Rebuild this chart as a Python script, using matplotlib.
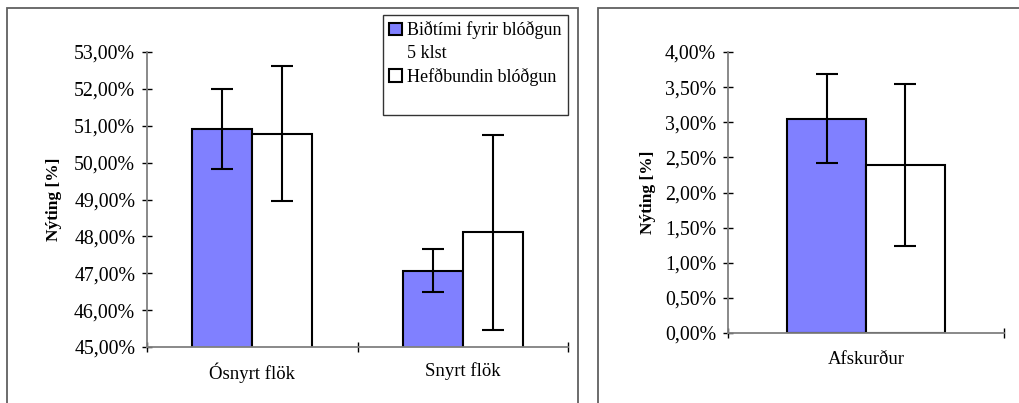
import numpy as np
import matplotlib
matplotlib.use("Agg")
import matplotlib.pyplot as plt
from matplotlib.patches import Rectangle
from matplotlib.ticker import FuncFormatter

# Data (values in %)
fillet_categories = ["Ósnyrt flök", "Snyrt flök"]
waiting_yield = [50.92, 47.07]
waiting_err = [1.08, 0.59]
standard_yield = [50.78, 48.11]
standard_err = [1.83, 2.64]

trim_categories = ["Afskurður"]
trim_waiting = [3.05]
trim_waiting_err = [0.63]
trim_standard = [2.39]
trim_standard_err = [1.15]

series_labels = ["Biðtími fyrir blóðgun", "Hefðbundin blóðgun"]
series_label_cont = "5 klst"

plt.rcParams["font.family"] = ["Liberation Serif", "DejaVu Serif"]
plt.rcParams["font.size"] = 13

BLUE = "#8080ff"
AXIS_GREY = "#808080"
BAR_W = 0.285


def pct_fmt(v, pos):
    return f"{v:.2f}%".replace(".", ",")


def style_axes(ax, n_cats, labels, label_pad=11):
    for side in ["top", "right"]:
        ax.spines[side].set_visible(False)
    for side in ["left", "bottom"]:
        ax.spines[side].set_color(AXIS_GREY)
        ax.spines[side].set_linewidth(1.3)
    ax.set_xlim(-0.5, n_cats - 0.5)
    # category boundaries as major ticks, names on minor ticks
    ax.set_xticks(np.arange(n_cats + 1) - 0.5)
    ax.set_xticklabels([])
    ax.set_xticks(np.arange(n_cats), minor=True)
    ax.set_xticklabels(labels, minor=True, fontsize=13.5)
    ax.tick_params(axis="x", which="major", direction="inout", length=7,
                   color="black", width=1)
    ax.tick_params(axis="x", which="minor", length=0, pad=label_pad)
    ax.tick_params(axis="y", direction="inout", length=7, color="black",
                   width=1, pad=5, labelsize=14.3)
    ax.yaxis.set_major_formatter(FuncFormatter(pct_fmt))
    ax.set_ylabel("Nýting [%]", fontweight="bold", fontsize=12.5)


def draw_bars(ax, x, a, a_err, b, b_err):
    err_kw = dict(ecolor="black", elinewidth=1.5, capsize=8, capthick=1.5)
    h1 = ax.bar(x - BAR_W / 2, a, BAR_W, color=BLUE, edgecolor="black",
                linewidth=1.5, yerr=a_err, error_kw=err_kw, zorder=2)
    h2 = ax.bar(x + BAR_W / 2, b, BAR_W, color="white", edgecolor="black",
                linewidth=1.5, yerr=b_err, error_kw=err_kw, zorder=2)
    return h1, h2


fig = plt.figure(figsize=(10.19, 4.03), dpi=100)

# panel frames (chart area borders)
for x0, x1 in [(7, 578), (598, 1030)]:
    fig.patches.append(Rectangle((x0 / 1019, -0.05), (x1 - x0) / 1019,
                                 (403 - 8) / 403 + 0.05,
                                 transform=fig.transFigure, fill=False,
                                 edgecolor="#606060", linewidth=1.3))

# left chart: fillets
ax1 = fig.add_axes([147 / 1019, 56 / 403, 421 / 1019, 295 / 403])
x1 = np.arange(len(fillet_categories))
h_wait, h_std = draw_bars(ax1, x1, waiting_yield, waiting_err,
                          standard_yield, standard_err)
ax1.set_ylim(45, 53)
ax1.set_yticks(np.arange(45, 54, 1))
style_axes(ax1, len(fillet_categories), fillet_categories)
ax1.yaxis.set_label_coords(-0.202, 0.5)

blank = Rectangle((0, 0), 1, 1, fill=False, edgecolor="none")
leg = ax1.legend([h_wait, blank, h_std, blank],
                 [series_labels[0], series_label_cont, series_labels[1], " "],
                 loc="upper left", bbox_to_anchor=(383 / 1019, 1 - 15 / 403),
                 bbox_transform=fig.transFigure, frameon=True, fancybox=False,
                 edgecolor="black", handlelength=0.7, handleheight=0.7,
                 handletextpad=0.3, borderpad=0.35, labelspacing=0.32,
                 borderaxespad=0, fontsize=13)
leg.get_frame().set_linewidth(1.0)

# right chart: trimmings
ax2 = fig.add_axes([728 / 1019, 70 / 403, 276 / 1019, 281 / 403])
x2 = np.arange(len(trim_categories))
draw_bars(ax2, x2, trim_waiting, trim_waiting_err, trim_standard,
          trim_standard_err)
ax2.set_ylim(0, 4)
ax2.set_yticks(np.arange(0, 4.01, 0.5))
style_axes(ax2, len(trim_categories), trim_categories, label_pad=13)
ax2.yaxis.set_label_coords(-0.261, 0.5)

fig.savefig("out.png", dpi=100)
